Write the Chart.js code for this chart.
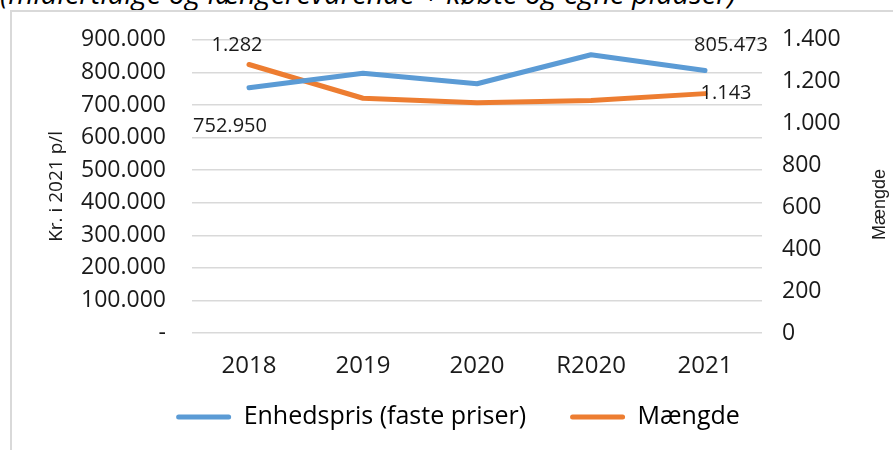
<!DOCTYPE html>
<html>
<head>
<meta charset="utf-8">
<script src="https://cdn.jsdelivr.net/npm/chart.js@4.4.1/dist/chart.umd.min.js"></script>
<style>
html, body { margin: 0; padding: 0; background: #fff; }
#wrap { position: relative; width: 893px; height: 450px; overflow: hidden; }
#title { position: absolute; left: 0; top: -21px; font: italic 29px/28px "Open Sans", sans-serif; color: #000; white-space: nowrap; }
#box { position: absolute; left: 10px; top: 10px; width: 900px; height: 438px; border-left: 2px solid #d9d9d9; border-top: 2px solid #d9d9d9; }
canvas { position: absolute; left: 0; top: 0; }
</style>
</head>
<body>
<div id="wrap">
  <div id="title">(midlertidige og længerevarende + købte og egne pladser)</div>
  <div id="box"></div>
  <canvas id="enhedChart" width="893" height="450"></canvas>
</div>
<script>
// data
const years = ['2018', '2019', '2020', 'R2020', '2021'];
const enhedspris = [752950, 797000, 765000, 854000, 805473];
const maengde = [1282, 1121, 1100, 1110, 1143];
const prisTicks = ['-', '100.000', '200.000', '300.000', '400.000', '500.000', '600.000', '700.000', '800.000', '900.000'];
const maengdeTicks = ['0', '200', '400', '600', '800', '1.000', '1.200', '1.400'];

const FONT = '"Open Sans", sans-serif';
const TXT = '#1a1a1a';

function fmt(v) {
    return Math.round(v).toString().replace(/\B(?=(\d{3})+(?!\d))/g, '.');
}

// labels on first and last point, offsets
const labelOffsets = [
    { 0: [-19, 39], 4: [26, -25] },
    { 0: [-12, -19], 4: [21, 0] }
];

const endLabels = {
    id: 'endLabels',
    afterDatasetsDraw(chart) {
        const ctx = chart.ctx;
        ctx.save();
        ctx.font = '20px ' + FONT;
        ctx.fillStyle = TXT;
        ctx.textAlign = 'center';
        ctx.textBaseline = 'middle';
        chart.data.datasets.forEach((ds, d) => {
            const meta = chart.getDatasetMeta(d);
            Object.keys(labelOffsets[d]).forEach(i => {
                const pt = meta.data[i];
                const off = labelOffsets[d][i];
                ctx.fillText(fmt(ds.data[i]), pt.x + off[0], pt.y + off[1]);
            });
        });
        ctx.restore();
    }
};

// right axis title reads bottom-to-top like in Excel
const rightTitle = {
    id: 'rightTitle',
    afterDraw(chart) {
        const ctx = chart.ctx;
        const a = chart.chartArea;
        ctx.save();
        ctx.translate(880, (a.top + a.bottom) / 2 + 18);
        ctx.rotate(-Math.PI / 2);
        ctx.font = '18px "Liberation Sans", Arial, sans-serif';
        ctx.fillStyle = TXT;
        ctx.textAlign = 'center';
        ctx.textBaseline = 'middle';
        ctx.fillText('Mængde', 0, 0);
        ctx.restore();
    }
};

// x labels are clipped to the axis box, give them room below
const xLabelRoom = {
    id: 'xLabelRoom',
    afterLayout(chart) {
        const x = chart.scales.x;
        x.bottom = x.top + 55;
    }
};

const ctx = document.getElementById('enhedChart').getContext('2d');
const enhedChart = new Chart(ctx, {
    type: 'line',
    data: {
        labels: years,
        datasets: [{
            label: 'Enhedspris (faste priser)',
            data: enhedspris,
            borderColor: '#5b9bd5',
            backgroundColor: '#5b9bd5',
            borderWidth: 5,
            borderCapStyle: 'round',
            borderJoinStyle: 'round',
            pointRadius: 0,
            tension: 0,
            yAxisID: 'y'
        }, {
            label: 'Mængde',
            data: maengde,
            borderColor: '#ed7d31',
            backgroundColor: '#ed7d31',
            borderWidth: 5,
            borderCapStyle: 'round',
            borderJoinStyle: 'round',
            pointRadius: 0,
            tension: 0,
            yAxisID: 'y1'
        }]
    },
    options: {
        responsive: false,
        animation: false,
        layout: { padding: { left: 23, right: 0, top: 39, bottom: 10.5 } },
        plugins: {
            tooltip: { enabled: false },
            legend: {
                position: 'bottom',
                labels: {
                    font: { family: FONT, size: 25 },
                    color: TXT,
                    boxWidth: 55,
                    boxHeight: 5,
                    useBorderRadius: true,
                    borderRadius: 2.5,
                    padding: 44,
                    generateLabels(chart) {
                        return chart.data.datasets.map((ds, i) => ({
                            text: ds.label,
                            fillStyle: ds.borderColor,
                            strokeStyle: ds.borderColor,
                            lineWidth: 0,
                            datasetIndex: i,
                            borderRadius: 2.5
                        }));
                    }
                }
            }
        },
        scales: {
            x: {
                offset: true,
                grid: { display: false },
                border: { display: false },
                ticks: { font: { family: FONT, size: 24 }, color: TXT, padding: 11 },
                afterFit(s) { s.height = 27.5; }
            },
            y: {
                position: 'left',
                min: 0,
                max: 900000,
                grid: { color: '#d9d9d9', lineWidth: 1.5, drawTicks: false },
                border: { display: false },
                ticks: {
                    stepSize: 100000,
                    font: { family: FONT, size: 23 },
                    color: TXT,
                    padding: 26,
                    callback: (v, i) => prisTicks[i]
                },
                title: {
                    display: true,
                    text: 'Kr. i 2021 p/l',
                    font: { family: FONT, size: 19 },
                    color: TXT,
                    padding: { top: 22, bottom: 0 }
                },
                afterFit(s) { s.width = 169; }
            },
            y1: {
                position: 'right',
                min: 0,
                max: 1400,
                grid: { drawOnChartArea: false, drawTicks: false },
                border: { display: false },
                ticks: {
                    stepSize: 200,
                    font: { family: FONT, size: 23 },
                    color: TXT,
                    padding: 20,
                    callback: (v, i) => maengdeTicks[i]
                },
                afterFit(s) { s.width = 131; }
            }
        }
    },
    plugins: [endLabels, rightTitle, xLabelRoom]
});
</script>
</body>
</html>
